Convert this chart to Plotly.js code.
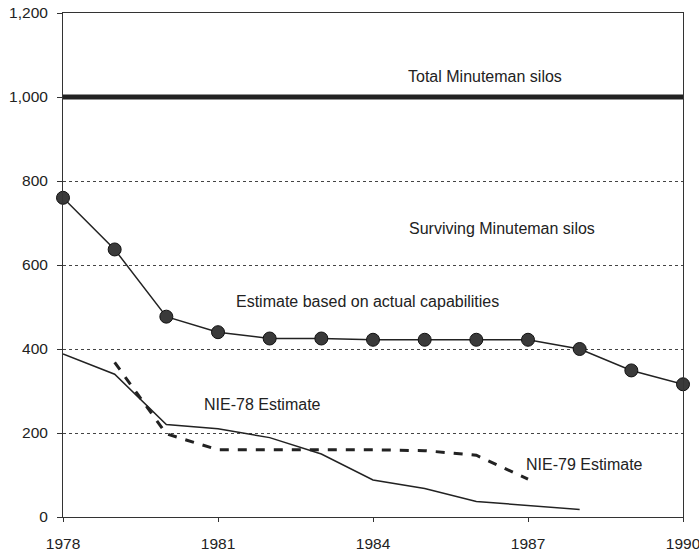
<!DOCTYPE html>
<html>
<head>
<meta charset="utf-8">
<script src="https://cdn.plot.ly/plotly-3.0.1.min.js"></script>
<style>html,body{margin:0;padding:0;background:#fff;}#chart{width:699px;height:556px;}</style>
</head>
<body>
<div id="chart"></div>
<script>
// Data
const years = [1978, 1979, 1980, 1981, 1982, 1983, 1984, 1985, 1986, 1987, 1988, 1989, 1990];
const totalSilos = [1000, 1000, 1000, 1000, 1000, 1000, 1000, 1000, 1000, 1000, 1000, 1000, 1000];
const surviving = [760, 637, 477, 440, 425, 425, 422, 422, 422, 422, 400, 349, 316];
const nie78Years = [1978, 1979, 1980, 1981, 1982, 1983, 1984, 1985, 1986, 1987, 1988];
const nie78 = [388, 340, 220, 210, 189, 150, 88, 68, 37, 28, 18];
const nie79Years = [1979, 1980, 1981, 1982, 1983, 1984, 1985, 1986, 1987];
const nie79 = [368, 198, 160, 160, 160, 160, 158, 147, 90];
const xTicks = [1978, 1981, 1984, 1987, 1990];
const yTicks = [0, 200, 400, 600, 800, 1000, 1200];
const labels = [
  {text: "Total Minuteman silos", x: 1986.16, y: 1050},
  {text: "Surviving Minuteman silos", x: 1986.49, y: 688},
  {text: "Estimate based on actual capabilities", x: 1983.89, y: 512},
  {text: "NIE-78 Estimate", x: 1981.86, y: 267},
  {text: "NIE-79 Estimate", x: 1988.1, y: 124}
];

const ink = "#222";
const traces = [
  {x: years, y: totalSilos, mode: "lines", line: {color: ink, width: 5}, cliponaxis: false},
  {x: years, y: surviving, mode: "lines+markers", line: {color: ink, width: 1.5},
   marker: {size: 13, color: "#3a3a3a", line: {color: "#111", width: 1}}, cliponaxis: false},
  {x: nie78Years, y: nie78, mode: "lines", line: {color: ink, width: 1.5}},
  {x: nie79Years, y: nie79, mode: "lines", line: {color: ink, width: 3, dash: "dash"}}
];

const layout = {
  width: 699, height: 556,
  margin: {l: 63, r: 16, t: 13, b: 39},
  paper_bgcolor: "#fff", plot_bgcolor: "#fff",
  showlegend: false,
  font: {family: "Liberation Sans, Arial, sans-serif", size: 16, color: ink},
  xaxis: {
    range: [1978, 1990], tickvals: xTicks, ticktext: xTicks.map(String),
    showgrid: false, zeroline: false,
    showline: true, linecolor: "#333", linewidth: 1, mirror: true,
    ticks: "outside", ticklen: 4, tickcolor: "#333",
    ticklabelstandoff: 8, ticklabeloverflow: "allow",
    tickfont: {size: 15.5, color: ink}
  },
  yaxis: {
    range: [0, 1200], tickvals: yTicks, tickformat: ",d",
    showgrid: true, gridcolor: "#444", gridwidth: 1, griddash: "dot",
    zeroline: false,
    showline: true, linecolor: "#333", linewidth: 1, mirror: true,
    ticks: "outside", ticklen: 5, tickcolor: "#333",
    ticklabelstandoff: 6, ticklabeloverflow: "allow",
    tickfont: {size: 15.5, color: ink}
  },
  annotations: labels.map(l => ({
    text: l.text, x: l.x, y: l.y, xref: "x", yref: "y",
    showarrow: false, font: {size: 16, color: ink}
  }))
};

Plotly.newPlot("chart", traces, layout, {staticPlot: true, displayModeBar: false});
</script>
</body>
</html>
